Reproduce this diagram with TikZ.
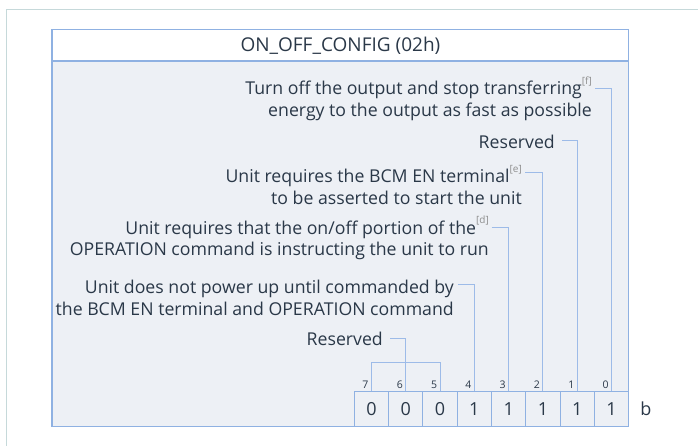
\documentclass[tikz,border=0pt]{standalone}
\usepackage{fontspec}
\setmainfont{Open Sans}
\definecolor{txt}{HTML}{2A3848}
\definecolor{boxblue}{HTML}{8FB1E2}
\definecolor{lineblue}{HTML}{9DBBE8}
\definecolor{bodyfill}{HTML}{EDF0F5}
\definecolor{outerc}{HTML}{C6D9DA}
\definecolor{supgray}{HTML}{8E8E8E}
\newcommand{\fnref}[1]{\smash{\raisebox{0.6em}{\fontsize{10}{10}\selectfont\color{supgray}[#1]}}}
\tikzset{
  lab/.style={align=right, inner sep=0pt, text=txt, font=\fontsize{17.7}{21.8}\selectfont, anchor=east},
  cell/.style={draw=boxblue, fill=bodyfill, line width=1pt, minimum width=34.3pt, minimum height=35pt, inner sep=0pt, text=txt, font=\fontsize{18}{20}\selectfont},
  bitnum/.style={inner sep=0pt, text=txt, font=\fontsize{10.5}{12}\selectfont},
  conn/.style={draw=lineblue, line width=1pt},
}
\begin{document}
\begin{tikzpicture}[x=1pt,y=-1pt]
\useasboundingbox (0,0) rectangle (698,445);
% outer frame
\draw[outerc, line width=1.5pt] (6.5,450) -- (6.5,9.5) -- (705,9.5);
% inner box
\path[fill=bodyfill] (52,61) rectangle (628.7,426.7);
\draw[boxblue, line width=1.2pt] (52,29.3) rectangle (628.7,426.7);
\draw[boxblue, line width=1.2pt] (52,61) -- (628.7,61);
\node[text=txt, font=\fontsize{19}{22}\selectfont, inner sep=0pt] (title) at (340.4,45.5) {ON\_OFF\_CONFIG (02h)};
% bit cells
\foreach \i/\v in {7/0,6/0,5/0,4/1,3/1,2/1,1/1,0/1} {
  \node[cell] (b\i) at ({611.55-34.3*\i},409.2) {\v};
  \node[bitnum] (n\i) at ({611.55-34.3*\i-6},385) {\i};
}
\node[text=txt, font=\fontsize{18}{20}\selectfont, inner sep=0pt] (unit) at (646,409.2) {b};
% labels
\node[lab] (l0) at (592,101) {Turn off the output and stop transferring\fnref{f}\\energy to the output as fast as possible};
\node[lab] (l1) at (555,142) {Reserved};
\node[lab] (l2) at (522,187) {Unit requires the BCM EN terminal\fnref{e}\\to be asserted to start the unit};
\node[lab] (l3) at (489,240.3) {Unit requires that the on/off portion of the\fnref{d}\\OPERATION command is instructing the unit to run};
\node[lab] (l4) at (454,298) {Unit does not power up until commanded by\\the BCM EN terminal and OPERATION command};
\node[lab] (l5) at (383,339) {Reserved};
% connector ends
\coordinate (c0) at (595,88.3);
\coordinate (c1) at (562,140.5);
\coordinate (c2) at (525,172.7);
\coordinate (c3) at (491.7,227);
\coordinate (c4) at (458.3,284.3);
\coordinate (c5) at (390,338.3);
\coordinate (rtop) at (0,362.7);
\draw[conn] (c0) -| (b0.north);
\draw[conn] (c1) -| (b1.north);
\draw[conn] (c2) -| (b2.north);
\draw[conn] (c3) -| (b3.north);
\draw[conn] (c4) -| (b4.north);
\draw[conn] (c5) -| (b6.north);
\draw[conn] (b7.north) -- (b7.north |- rtop) -- (b5.north |- rtop) -- (b5.north);
\end{tikzpicture}
\end{document}
